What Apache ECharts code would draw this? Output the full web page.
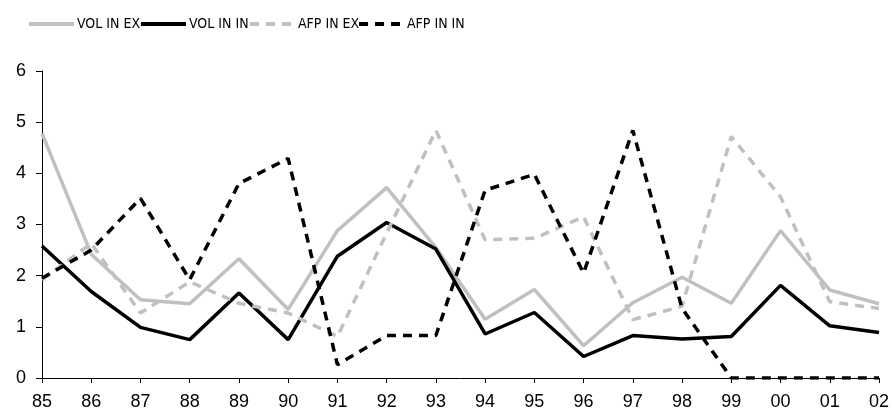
<!DOCTYPE html>
<html><head><meta charset="utf-8">
<script src="https://cdn.jsdelivr.net/npm/echarts@6/dist/echarts.min.js"></script>
<style>html,body{margin:0;padding:0;background:#fff}#c{width:892px;height:417px}</style>
</head><body><div id="c"></div>
<script>
var years = ['85','86','87','88','89','90','91','92','93','94','95','96','97','98','99','00','01','02'];
var volInEx = [4.78,2.42,1.53,1.45,2.33,1.34,2.88,3.72,2.55,1.15,1.73,0.63,1.47,1.97,1.46,2.88,1.72,1.45];
var volInIn = [2.58,1.69,0.99,0.75,1.66,0.75,2.38,3.04,2.52,0.86,1.28,0.42,0.83,0.76,0.81,1.81,1.02,0.89];
var afpInEx = [1.92,2.63,1.27,1.88,1.46,1.27,0.81,2.83,4.84,2.70,2.73,3.15,1.14,1.40,4.72,3.54,1.49,1.36];
var afpInIn = [1.95,2.50,3.51,1.92,3.80,4.29,0.26,0.83,0.83,3.67,3.98,2.05,4.84,1.36,0,0,0,0];
var seriesNames = ['VOL IN EX','VOL IN IN','AFP IN EX','AFP IN IN'];
var yTicks = [0,1,2,3,4,5,6];

var chart = echarts.init(document.getElementById('c'));
function s(name, data, color, dashed){
  return {name:name, type:'line', data:data, symbol:'none', smooth:false,
    lineStyle:{color:color, width:3.5, type: dashed ? [9,7] : 'solid'},
    itemStyle:{color:color}};
}
var legendLefts = [22, 134, 243, 352];
var legends = seriesNames.map(function(n, i){
  return {left:legendLefts[i], top:12, itemWidth:45, itemHeight:14, itemGap:0,
    itemStyle:{opacity:0},
    lineStyle:{width:4},
    textStyle:{fontFamily:'DejaVu Sans Condensed, Liberation Sans', fontSize:14, color:'#000', padding:[0,0,0,-2]},
    data:[n]};
});
chart.setOption({
  animation:false,
  legend:legends,
  grid:{left:42, right:13, top:71, bottom:39, containLabel:false},
  xAxis:{type:'category', data:years, boundaryGap:false,
    axisLine:{lineStyle:{color:'#000', width:1}},
    axisTick:{show:true, length:5, alignWithLabel:true, lineStyle:{color:'#000'}},
    axisLabel:{fontFamily:'Liberation Sans, Arial', fontSize:18, color:'#000', margin:15, interval:0}},
  yAxis:{type:'value', min:yTicks[0], max:yTicks[yTicks.length-1], interval:1,
    splitLine:{show:false},
    axisLine:{show:true, lineStyle:{color:'#000', width:1}},
    axisTick:{show:true, length:6, lineStyle:{color:'#000'}},
    axisLabel:{fontFamily:'Liberation Sans, Arial', fontSize:18, color:'#000', margin:16}},
  series:[
    s(seriesNames[0], volInEx, '#c0c0c0', false),
    s(seriesNames[1], volInIn, '#000000', false),
    s(seriesNames[2], afpInEx, '#c0c0c0', true),
    s(seriesNames[3], afpInIn, '#000000', true)
  ]
});
</script></body></html>
